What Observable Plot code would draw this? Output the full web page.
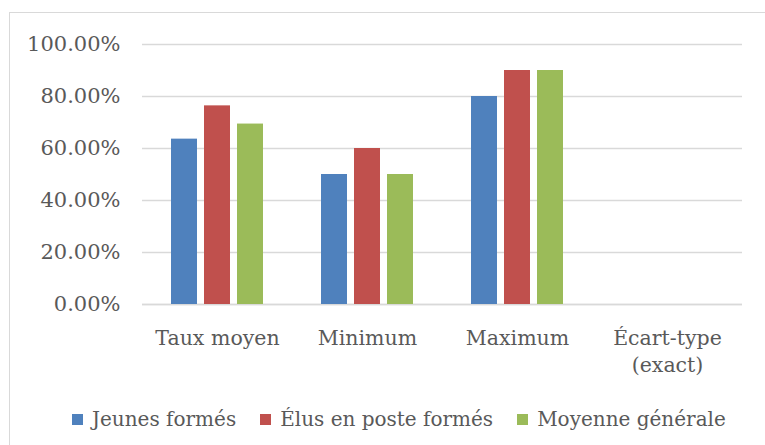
<!DOCTYPE html>
<html>
<head>
<meta charset="utf-8">
<script src="https://cdn.jsdelivr.net/npm/d3@7"></script>
<script src="https://cdn.jsdelivr.net/npm/@observablehq/plot@0.6"></script>
<style>
  body { margin: 0; background: #fff; }
  #wrap { position: relative; width: 765px; height: 445px; overflow: hidden; background: #fff; font-family: "DejaVu Serif", serif; }
  #frame { position: absolute; left: 9px; top: 12px; width: 800px; height: 500px; border: 1px solid #d9d9d9; box-sizing: border-box; }
  #chart { position: absolute; left: 0; top: 0; }
  #legend { position: absolute; left: 72px; top: 407px; display: flex; align-items: center; font-size: 20px; color: #595959; white-space: nowrap; }
  #legend .item { display: flex; align-items: center; margin-right: 24px; }
  #legend .sw { width: 11px; height: 11px; margin-right: 9px; }
</style>
</head>
<body>
<div id="wrap">
  <div id="frame"></div>
  <div id="chart"></div>
  <div id="legend"></div>
</div>
<script>
const categories = ["Taux moyen", "Minimum", "Maximum", "Écart-type\n(exact)"];
const seriesNames = ["Jeunes formés", "Élus en poste formés", "Moyenne générale"];
const jeunes = [0.636, 0.50, 0.80, 0];
const elus = [0.764, 0.60, 0.90, 0];
const moyenne = [0.694, 0.50, 0.90, 0];
const colors = ["#4F81BD", "#C0504D", "#9BBB59"];
const yTicks = [0, 0.2, 0.4, 0.6, 0.8, 1.0];

const seriesValues = [jeunes, elus, moyenne];
const data = [];
categories.forEach((c, i) => {
  seriesNames.forEach((s, j) => data.push({cat: c, series: s, value: seriesValues[j][i]}));
});

const plot = Plot.plot({
  width: 765,
  height: 390,
  marginLeft: 142,
  marginRight: 23,
  marginTop: 44,
  marginBottom: 86,
  style: {fontFamily: "DejaVu Serif, serif", fontSize: "20px", color: "#595959", background: "transparent"},
  fx: {domain: categories, padding: 0, label: null},
  x: {domain: seriesNames, paddingInner: 0.22, paddingOuter: 0.86, axis: null},
  y: {domain: [0, 1], label: null},
  color: {domain: seriesNames, range: colors},
  marks: [
    Plot.gridY(yTicks, {stroke: "#d9d9d9", strokeOpacity: 1, strokeWidth: 1.4}),
    Plot.axisY({ticks: yTicks, tickFormat: d3.format(".2%"), tickSize: 0, tickPadding: 22, fontSize: 21, fill: "#595959", label: null}),
    Plot.ruleY([0], {stroke: "#d9d9d9", strokeWidth: 1.5}),
    Plot.barY(data, {fx: "cat", x: "series", y: "value", fill: "series"}),
    Plot.axisFx({anchor: "bottom", tickSize: 0, tickPadding: 22, fontSize: 20.5, fill: "#595959", lineHeight: 1.3, label: null})
  ]
});
document.getElementById("chart").appendChild(plot);

const legend = document.getElementById("legend");
seriesNames.forEach((s, i) => {
  const item = document.createElement("div");
  item.className = "item";
  const sw = document.createElement("span");
  sw.className = "sw";
  sw.style.background = colors[i];
  const t = document.createElement("span");
  t.textContent = s;
  item.appendChild(sw);
  item.appendChild(t);
  legend.appendChild(item);
});
</script>
</body>
</html>
